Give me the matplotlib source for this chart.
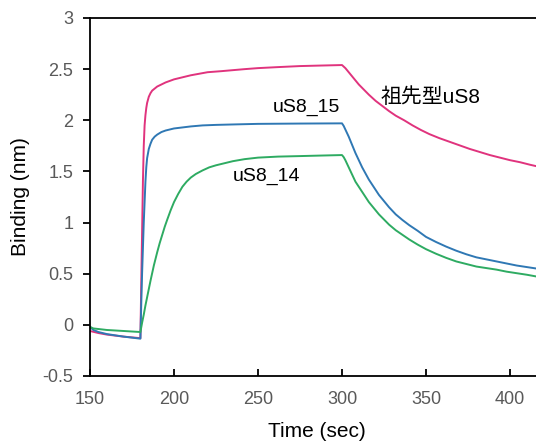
import matplotlib
matplotlib.use("Agg")
import matplotlib.pyplot as plt
from matplotlib.ticker import FixedLocator

# ---- data ----
t_anc = [150, 155, 160, 170, 180, 180.5, 181, 181.5, 182, 182.5, 183, 183.5, 184, 185, 186, 187, 188.5, 190, 192.5,
         195, 200, 205, 210, 215, 220, 228, 235, 242, 250, 262, 275, 287, 300,
         302, 304, 306, 308, 310, 313, 316, 320, 324, 328, 332, 337, 342, 347, 352, 358, 364, 370, 376, 382, 388,
         394, 400, 406, 412, 420]
y_anc = [-0.06, -0.08, -0.095, -0.115, -0.13, 0.4, 0.9, 1.4, 1.75, 1.95, 2.05, 2.12, 2.17, 2.23, 2.265, 2.29, 2.31, 2.33, 2.35,
         2.37, 2.40, 2.42, 2.44, 2.455, 2.47, 2.48, 2.49, 2.50, 2.51, 2.52, 2.53, 2.535, 2.54,
         2.51, 2.47, 2.43, 2.39, 2.35, 2.30, 2.25, 2.19, 2.14, 2.09, 2.045, 2.00, 1.95, 1.905, 1.865, 1.825, 1.79, 1.755, 1.72, 1.69, 1.66,
         1.635, 1.61, 1.59, 1.565, 1.535]

t_15 = [150, 152, 155, 160, 170, 180, 180.5, 181, 181.5, 182, 182.5, 183, 183.5, 184, 185, 186, 187, 188.5, 190, 192.5,
        195, 200, 205, 210, 217, 225, 237, 250, 275, 300,
        301, 302, 304, 306, 308, 310, 312, 314, 316, 319, 322, 325, 328, 332, 336, 340, 345, 350, 356, 362, 368, 374,
        380, 386, 392, 398, 404, 410, 420]
y_15 = [-0.02, -0.05, -0.07, -0.09, -0.115, -0.135, 0.2, 0.5, 0.75, 1.0, 1.2, 1.4, 1.54, 1.63, 1.72, 1.77, 1.81, 1.84, 1.86, 1.885,
        1.90, 1.92, 1.93, 1.94, 1.95, 1.955, 1.96, 1.965, 1.968, 1.97,
        1.945, 1.91, 1.84, 1.76, 1.68, 1.61, 1.54, 1.48, 1.42, 1.345, 1.27, 1.21, 1.15, 1.08, 1.025, 0.975, 0.92, 0.86, 0.81, 0.765, 0.725, 0.69,
        0.66, 0.64, 0.62, 0.60, 0.58, 0.565, 0.54]

t_14 = [150, 152, 160, 170, 180, 181, 182, 183, 184, 185, 186, 187, 188, 189, 190, 191.5, 193, 194.5, 196, 198,
        200, 202.5, 205, 207.5, 210, 213, 217, 221, 225, 230, 235, 242, 250, 262, 275, 287, 300,
        301, 302, 304, 306, 308, 310, 312, 314, 316, 319, 322, 325, 328, 332, 336, 340, 345, 350, 356, 362, 368, 374,
        380, 386, 392, 398, 404, 410, 420]
y_14 = [-0.02, -0.035, -0.05, -0.06, -0.07, 0.02, 0.10, 0.19, 0.27, 0.35, 0.43, 0.505, 0.58, 0.645, 0.71, 0.80, 0.88, 0.96, 1.03, 1.12,
        1.20, 1.28, 1.35, 1.40, 1.44, 1.475, 1.51, 1.54, 1.56, 1.58, 1.60, 1.62, 1.635, 1.645, 1.65, 1.655, 1.66,
        1.64, 1.61, 1.54, 1.47, 1.40, 1.35, 1.30, 1.25, 1.20, 1.14, 1.08, 1.03, 0.98, 0.925, 0.88, 0.835, 0.785, 0.74, 0.695, 0.655, 0.62, 0.595,
        0.57, 0.555, 0.54, 0.52, 0.505, 0.49, 0.46]

labels = ["祖先型uS8", "uS8_15", "uS8_14"]
x_ticks = [150, 200, 250, 300, 350, 400]
y_ticks = [-0.5, 0, 0.5, 1, 1.5, 2, 2.5, 3]
y_tick_labels = ["-0.5", "0", "0.5", "1", "1.5", "2", "2.5", "3"]

colors = ["#e0337d", "#2f78b4", "#2eab62"]

fig = plt.figure(figsize=(5.36, 4.42), dpi=100)
ax = fig.add_axes([90 / 536, 1 - 376 / 442, 453.6 / 536, 358 / 442])

for t, y, c in zip([t_anc, t_15, t_14], [y_anc, y_15, y_14], colors):
    ax.plot(t, y, color=c, lw=1.4, solid_joinstyle="round")

ax.set_xlim(150, 420)
ax.set_ylim(-0.5, 3)
ax.set_xticks(x_ticks)
ax.set_xticklabels([str(v) for v in x_ticks])
ax.set_yticks(y_ticks)
ax.set_yticklabels(y_tick_labels)
ax.yaxis.set_minor_locator(FixedLocator([0]))

for s in ax.spines.values():
    s.set_linewidth(1.3)
    s.set_color("black")

ax.tick_params(axis="x", direction="in", length=5, width=1.3, colors="black",
               labelcolor="#595959", labelsize=13, pad=11)
ax.tick_params(axis="y", which="major", direction="out", length=5, width=1.3, colors="black",
               labelcolor="#595959", labelsize=13, pad=7)
ax.tick_params(axis="y", which="minor", direction="in", length=5, width=1.3, colors="black")

for lab in ax.get_xticklabels() + ax.get_yticklabels():
    lab.set_family("Liberation Sans")

ax.set_xlabel("Time (sec)", fontsize=15, family="Liberation Sans", labelpad=10)
ax.set_ylabel("Binding (nm)", fontsize=15, family="Liberation Sans", labelpad=9)

fam = ["Liberation Sans", "Noto Sans CJK JP"]
ax.text(353, 2.228, labels[0], fontsize=15, family=fam, ha="center", va="center")
ax.text(279, 2.13, labels[1], fontsize=14, family=fam, ha="center", va="center")
ax.text(255, 1.456, labels[2], fontsize=14, family=fam, ha="center", va="center")

fig.savefig("out.png", dpi=100)
